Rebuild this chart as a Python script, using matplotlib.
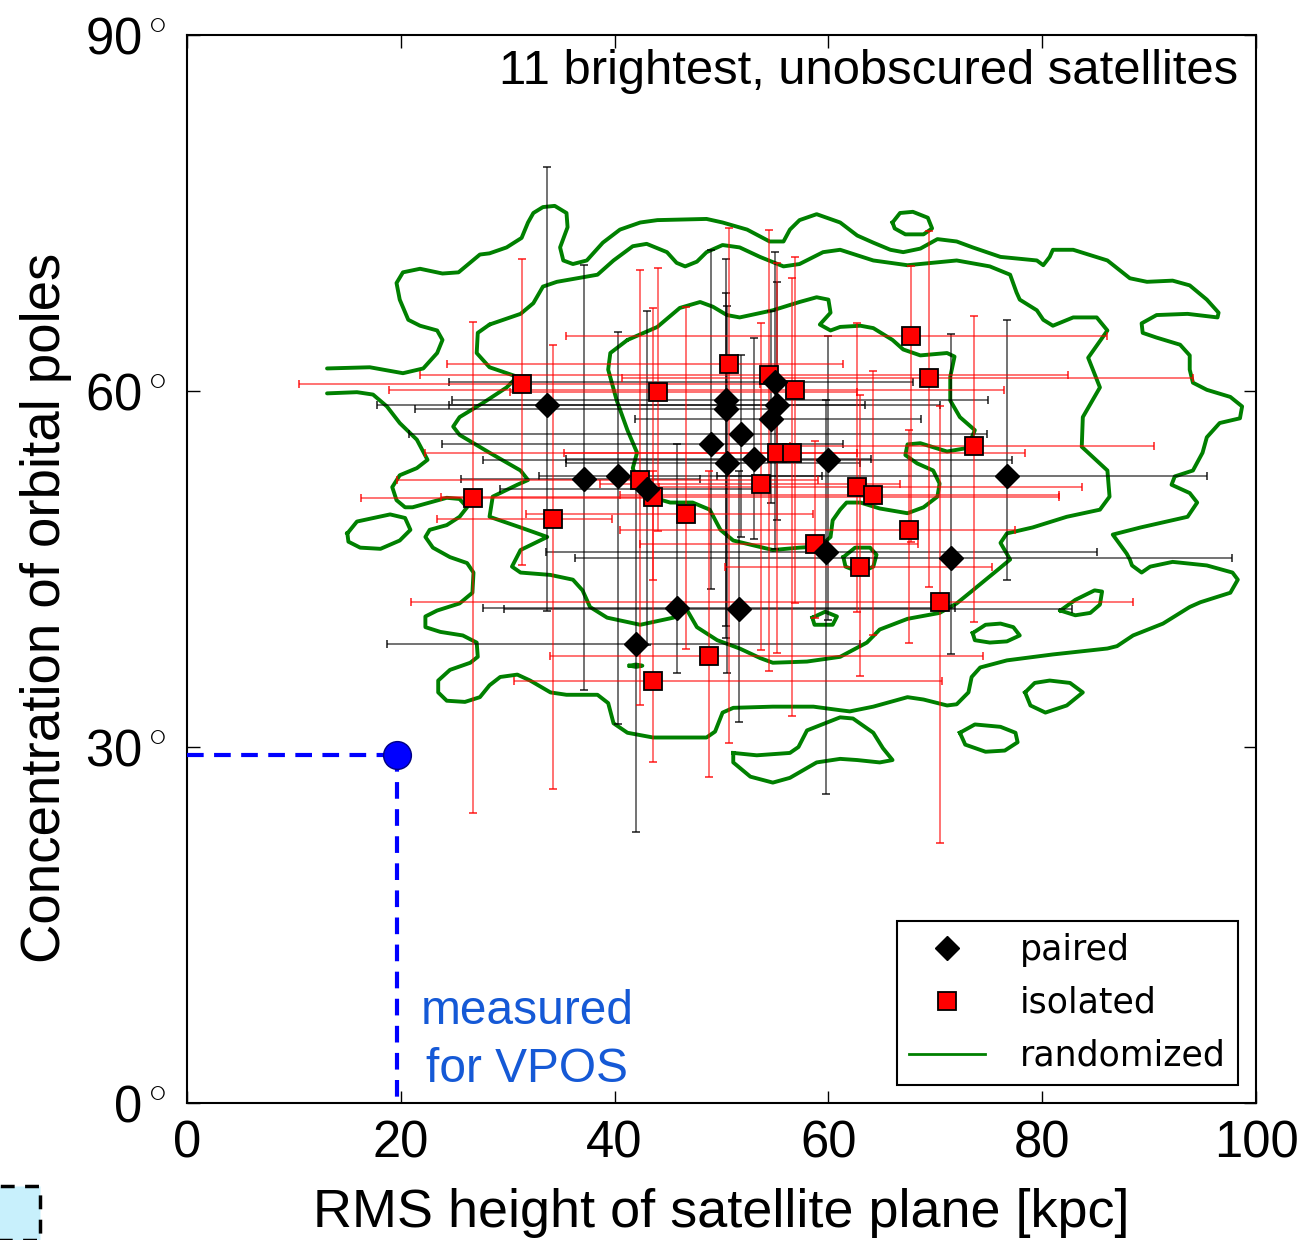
import matplotlib
matplotlib.use("Agg")
import matplotlib.pyplot as plt
from matplotlib.lines import Line2D
from matplotlib.patches import Rectangle
import numpy as np

plt.rcParams['font.family'] = ['Liberation Sans', 'DejaVu Sans']
plt.rcParams['mathtext.fontset'] = 'custom'
plt.rcParams['mathtext.rm'] = 'Liberation Sans'

# ---------------- data ----------------
# paired satellites (black diamonds): position, error-bar ends
paired_x = [33.7, 37.1, 40.35, 43.0, 49.0, 50.4, 50.4, 51.8, 50.5, 53.0,
            55.0, 55.2, 54.6, 60.0, 59.8, 76.7, 71.5, 45.8, 51.6, 42.0]
paired_y = [58.8, 52.6, 52.8, 51.7, 55.5, 59.2, 58.5, 56.4, 53.9, 54.3,
            60.8, 58.8, 57.6, 54.2, 46.4, 52.8, 45.9, 41.7, 41.6, 38.7]
paired_xlo = [17.8, 25.6, 32.9, 29.3, 23.9, 24.8, 21.3, 20.8, 35.5, 35.5,
              24.5, 24.5, 41.9, 27.7, 33.6, 49.6, 36.3, 27.7, 29.7, 18.7]
paired_xhi = [63.4, 48.0, 59.4, 53.6, 61.4, 74.9, 55.5, 74.8, 63.0, 64.0,
              67.9, 70.4, 68.7, 77.2, 85.1, 95.4, 97.8, 71.8, 82.8, 63.0]
paired_ylo = [41.5, 34.8, 31.9, 38.6, 43.3, 40.2, 39.2, 47.7, 36.2, 47.5,
              46.7, 49.1, 50.6, 40.7, 26.0, 44.1, 37.8, 36.2, 32.1, 22.8]
paired_yhi = [78.9, 70.6, 65.0, 66.7, 71.9, 71.1, 68.3, 63.0, 67.2, 64.5,
              71.7, 69.2, 66.7, 64.6, 59.2, 66.0, 64.8, 55.5, 53.3, 53.3]

# isolated satellites (red squares)
iso_x = [31.3, 26.8, 34.2, 44.1, 42.4, 43.6, 46.7, 50.7, 54.4, 56.9, 55.2, 56.6,
         53.7, 58.7, 67.7, 69.4, 73.6, 62.7, 64.2, 67.5, 63.0, 70.4, 48.8, 43.6]
iso_y = [60.6, 51.0, 49.2, 59.9, 52.5, 51.1, 49.6, 62.3, 61.35, 60.1, 54.75, 54.75,
         52.2, 47.1, 64.6, 61.1, 55.4, 51.9, 51.2, 48.3, 45.2, 42.25, 37.7, 35.6]
iso_xlo = [10.5, 16.3, 23.4, 30.2, 19.6, 23.8, 31.7, 24.3, 21.8, 18.9, 35.3, 22.3,
           38.6, 42.4, 35.5, 40.7, 56.4, 44.2, 40.5, 40.5, 50.3, 21.0, 34.0, 30.6]
iso_xhi = [53.6, 43.3, 39.8, 62.7, 59.0, 81.6, 58.6, 61.4, 82.4, 76.4, 62.7, 78.4,
           66.7, 68.4, 86.1, 94.1, 90.5, 83.7, 81.6, 77.5, 75.3, 88.5, 74.5, 70.6]
iso_ylo = [45.3, 24.4, 26.5, 48.2, 33.5, 44.1, 38.3, 30.3, 36.4, 42.1, 37.9, 32.6,
           38.2, 40.9, 47.3, 43.5, 40.5, 41.4, 39.4, 38.8, 36.0, 21.9, 27.5, 28.7]
iso_yhi = [71.1, 65.8, 63.9, 70.4, 70.2, 67.0, 67.1, 73.7, 73.6, 71.3, 70.8, 69.5,
           65.7, 55.8, 70.5, 73.5, 66.3, 65.7, 61.7, 56.7, 59.7, 58.7, 53.3, 53.3]

# measured value for VPOS
vpos_rms = 19.6
vpos_conc = 29.3

# randomized distribution: contour paths (x [kpc], y [deg])
outer_x = [13.1, 17.1, 20.2, 22.1, 23.4, 23.9, 23.4, 21.8, 20.7, 19.9, 19.6, 20.2, 21.8, 23.9,
           25.4, 27.4, 28.3, 29.9, 31.3, 31.9, 32.4, 33.3, 34.4, 35.5, 35.6, 34.9, 35.2, 36.1,
           37.4, 38.9, 40.5, 42.4, 44.0, 48.6, 50.1, 52.4, 54.5, 55.8, 56.4, 57.3, 58.9, 61.1,
           62.7, 64.2, 65.8, 67.0, 68.6, 70.2, 72.0, 73.5, 76.1, 79.5, 80.1, 80.7, 81.0, 82.9,
           86.1, 88.2, 89.8, 92.2, 93.8, 95.4, 96.5, 96.4, 93.6, 90.7, 89.3, 89.4, 90.7, 92.9,
           93.8, 93.8, 94.1, 95.4, 97.6, 98.7, 98.5, 96.6, 95.4, 95.0, 94.1, 92.4, 92.1, 93.8,
           94.5, 93.6, 89.2, 86.6, 87.9, 88.2, 88.4, 89.3, 90.1, 92.2, 95.4, 97.8, 98.3, 97.6,
           94.8, 93.8, 91.3, 88.5, 87.0, 86.1, 81.0, 76.7, 74.2, 73.4, 73.1, 72.0, 71.1, 68.9,
           67.4, 64.2, 62.0, 61.1, 58.6, 54.8, 51.1, 50.1, 49.4, 48.6, 43.6, 41.2, 39.9, 39.4,
           38.4, 35.5, 34.0, 32.1, 30.9, 29.3, 28.3, 27.4, 26.0, 24.3, 23.5, 23.5, 24.6, 26.5,
           27.2, 27.1, 25.8, 23.7, 22.3, 22.3, 23.4, 25.5, 26.7, 26.8, 26.2, 24.6, 23.0, 22.3,
           22.7, 24.3, 25.5, 26.2, 25.5, 24.3, 22.7, 21.1, 20.4, 19.6, 19.2, 19.9, 21.5, 22.5,
           21.5, 19.9, 18.7, 17.4, 15.9, 13.1]
outer_y = [61.9, 62.0, 61.5, 61.9, 63.2, 64.3, 65.1, 65.5, 66.0, 67.7, 69.1, 70.0, 70.3, 69.9,
           70.0, 71.5, 71.6, 72.1, 72.9, 74.2, 75.0, 75.5, 75.6, 75.0, 73.8, 72.1, 71.0, 70.7,
           71.0, 72.5, 73.6, 74.2, 74.4, 74.5, 74.2, 73.6, 72.6, 72.6, 73.6, 74.4, 74.9, 74.2,
           73.1, 72.5, 71.9, 71.7, 72.0, 72.8, 72.6, 72.1, 71.3, 71.0, 70.6, 71.3, 71.9, 71.9,
           71.0, 69.5, 69.2, 69.3, 68.9, 67.7, 66.6, 66.2, 66.5, 66.4, 65.7, 64.9, 64.5, 63.9,
           63.0, 61.8, 60.7, 60.1, 59.5, 58.7, 57.7, 57.3, 56.1, 54.8, 53.3, 52.8, 52.1, 51.4,
           50.6, 49.4, 48.5, 47.9, 46.3, 45.8, 45.3, 44.7, 45.2, 45.6, 45.3, 44.7, 44.1, 43.0,
           42.2, 41.8, 40.4, 39.4, 38.5, 38.3, 37.8, 37.3, 36.7, 35.9, 34.6, 33.6, 33.5, 34.0,
           34.2, 33.4, 33.0, 33.1, 33.4, 33.4, 33.3, 32.9, 31.3, 30.8, 30.8, 31.2, 32.0, 33.7,
           34.4, 34.4, 34.6, 35.6, 36.1, 35.9, 35.2, 34.2, 33.8, 33.9, 34.6, 35.6, 36.5, 37.1,
           37.6, 38.8, 39.4, 39.7, 40.1, 41.0, 41.5, 42.1, 43.0, 44.7, 45.5, 46.0, 46.8, 47.7,
           48.3, 48.7, 49.4, 50.2, 50.9, 51.0, 50.6, 50.2, 50.2, 50.8, 51.9, 52.9, 53.5, 54.2,
           55.9, 57.3, 58.7, 59.7, 59.9, 59.8]

middle_x = [28.3, 31.2, 32.4, 33.3, 34.6, 38.4, 39.9, 41.7, 43.0, 44.9, 45.8, 46.6, 47.7, 48.6,
            50.1, 51.7, 53.6, 55.8, 57.3, 59.5, 61.1, 64.2, 67.4, 72.0, 75.1, 77.0, 77.6, 77.9,
            79.5, 80.1, 81.0, 82.9, 85.1, 86.1, 84.3, 85.4, 83.8, 83.7, 86.1, 86.3, 85.4, 82.3,
            79.1, 76.7, 76.1, 77.0, 75.8, 73.5, 72.0, 70.4, 67.4, 64.8, 63.6, 61.1, 58.0, 54.8,
            53.6, 51.7, 49.6, 47.7, 46.8, 45.5, 42.4, 39.3, 37.7, 37.0, 36.1, 34.0, 31.2, 30.4,
            31.2, 33.7, 31.2, 28.3, 28.6, 30.9, 31.9, 31.2, 28.3, 25.5, 24.9, 25.5, 27.7, 29.9,
            30.9, 28.3, 27.1, 27.2, 28.3]
middle_y = [65.6, 66.5, 67.4, 68.8, 69.2, 69.8, 71.0, 72.2, 72.4, 71.7, 70.8, 70.5, 70.9, 71.7,
            72.3, 72.1, 71.3, 70.5, 70.7, 71.7, 71.9, 71.0, 70.6, 71.0, 70.5, 69.8, 68.3, 67.7,
            66.8, 66.0, 65.5, 66.2, 66.2, 65.1, 62.8, 60.3, 57.8, 55.3, 53.3, 51.1, 50.0, 49.4,
            48.5, 48.0, 47.2, 45.8, 44.9, 43.2, 42.1, 41.3, 40.8, 39.9, 38.8, 37.6, 37.2, 37.1,
            37.5, 38.3, 39.0, 40.1, 41.5, 40.9, 40.3, 40.9, 41.8, 43.2, 44.1, 44.5, 44.7, 45.2,
            46.6, 47.7, 48.5, 49.4, 51.1, 52.1, 52.5, 53.3, 54.8, 56.3, 57.0, 57.8, 59.0, 60.3,
            61.2, 62.0, 63.2, 64.9, 65.6]

inner_x = [41.2, 44.0, 46.1, 48.0, 49.2, 50.5, 51.7, 54.8, 57.3, 58.9, 60.0, 60.2, 59.2, 60.2,
           61.1, 63.0, 64.2, 66.0, 67.0, 68.6, 71.1, 71.8, 71.4, 71.4, 72.3, 73.7, 73.0, 71.1,
           68.6, 67.4, 67.2, 68.3, 69.8, 70.4, 70.2, 68.9, 67.4, 64.8, 63.0, 61.7, 61.1, 60.4,
           60.2, 59.2, 57.3, 54.8, 51.1, 49.9, 48.9, 47.3, 45.2, 43.3, 42.4, 41.7, 42.1, 41.2,
           40.2, 39.4, 39.6, 41.2]
inner_y = [64.3, 65.4, 67.0, 67.5, 67.1, 66.4, 66.2, 66.8, 67.5, 67.9, 67.7, 66.6, 65.6, 65.1,
           65.4, 65.5, 65.3, 64.3, 63.5, 63.0, 63.2, 62.9, 61.2, 59.2, 57.8, 56.7, 55.2, 54.9,
           55.6, 55.5, 54.6, 53.9, 53.3, 52.2, 51.1, 50.2, 49.7, 50.1, 50.6, 50.6, 50.0, 49.1,
           47.7, 46.9, 46.8, 46.6, 47.4, 48.3, 50.0, 50.6, 50.6, 51.1, 51.8, 53.5, 54.8, 56.7,
           59.2, 61.8, 63.2, 64.3]

# small closed islands of the contours
islands = [
    ([66.0, 66.7, 67.9, 69.3, 69.7, 68.9, 67.2, 66.2],
     [74.2, 75.0, 75.1, 74.6, 73.7, 73.2, 73.2, 73.7]),
    ([15.0, 15.9, 19.0, 20.4, 20.9, 19.9, 18.1, 16.2, 15.1],
     [48.0, 49.0, 49.6, 49.3, 48.3, 47.4, 46.7, 46.8, 47.3]),
    ([73.5, 74.7, 76.1, 77.3, 77.9, 76.7, 75.1, 73.7],
     [39.6, 40.3, 40.4, 40.1, 39.4, 38.9, 38.8, 39.0]),
    ([78.4, 79.3, 80.7, 82.6, 83.8, 82.3, 80.3, 78.9],
     [34.6, 35.4, 35.6, 35.4, 34.6, 33.5, 32.9, 33.5]),
    ([72.3, 73.7, 76.1, 77.5, 77.7, 76.5, 74.7, 72.8],
     [31.2, 31.9, 31.7, 31.2, 30.4, 29.7, 29.6, 30.2]),
    ([51.1, 53.3, 56.4, 57.2, 58.0, 61.1, 62.3, 64.2, 65.1, 66.0, 64.8, 62.7, 61.1, 58.9,
      56.4, 54.8, 52.7, 51.1],
     [29.5, 29.3, 29.5, 30.0, 31.4, 32.5, 32.4, 31.2, 29.9, 28.9, 28.7, 28.9, 29.0, 28.7,
      27.4, 27.0, 27.5, 28.7]),
    ([81.7, 83.1, 84.9, 85.6, 85.4, 84.5, 83.1],
     [41.5, 42.4, 43.2, 43.1, 42.0, 41.3, 41.1]),
    ([61.4, 62.5, 63.9, 64.5, 64.2, 63.0, 61.6],
     [46.0, 46.8, 46.8, 46.2, 45.2, 44.7, 45.2]),
    ([58.5, 59.7, 60.8, 60.4, 58.7],
     [40.9, 41.4, 41.0, 40.3, 40.3]),
    ([41.4, 42.0, 42.6, 42.0], [36.85, 36.95, 36.85, 36.75]),
]

x_ticks = [0, 20, 40, 60, 80, 100]
y_ticks = [0, 30, 60, 90]
y_ticklabels = [r'0$^\circ$', r'30$^\circ$', r'60$^\circ$', r'90$^\circ$']

# ---------------- figure ----------------
W, H = 1307, 1240
fig = plt.figure(figsize=(W / 100, H / 100), dpi=100)
ax = fig.add_axes([187 / W, 1 - 1103 / H, (1256 - 187) / W, (1103 - 35) / H])

green = '#008000'
for xs, ys in [(outer_x, outer_y), (middle_x, middle_y), (inner_x, inner_y)]:
    ax.plot(xs, ys, color=green, lw=2.8, zorder=2, solid_joinstyle='round',
            solid_capstyle='round')
for xs, ys in islands:
    ax.plot(list(xs) + [xs[0]], list(ys) + [ys[0]], color=green, lw=2.8, zorder=2,
            solid_joinstyle='round')


def errs(v, lo, hi):
    v = np.asarray(v); lo = np.asarray(lo); hi = np.asarray(hi)
    return np.vstack([v - lo, hi - v])


ax.errorbar(paired_x, paired_y, xerr=errs(paired_x, paired_xlo, paired_xhi),
            yerr=errs(paired_y, paired_ylo, paired_yhi), fmt='none',
            ecolor='black', elinewidth=1.1, capsize=3, capthick=1.4, alpha=0.7, zorder=3)
ax.errorbar(iso_x, iso_y, xerr=errs(iso_x, iso_xlo, iso_xhi),
            yerr=errs(iso_y, iso_ylo, iso_yhi), fmt='none',
            ecolor='red', elinewidth=1.1, capsize=3, capthick=1.4, alpha=0.7, zorder=3)

ax.plot(paired_x, paired_y, 'D', color='black', ms=12.5, mec='black', zorder=5)
ax.plot(iso_x, iso_y, 's', color='red', ms=13, mec='black', mew=1.3, zorder=4)

# VPOS measurement
ax.plot([0, vpos_rms], [vpos_conc, vpos_conc], color='blue', lw=3, dashes=(4, 2.5), zorder=6)
ax.plot([vpos_rms, vpos_rms], [vpos_conc, 0], color='blue', lw=3, dashes=(4, 2.5), zorder=6,
        clip_on=False)
ax.plot([vpos_rms], [vpos_conc], 'o', color='blue', ms=20, mec='#000080', mew=1, zorder=7)
ax.text(31.8, 5.25, 'measured\nfor VPOS', color='#1559d6', fontsize=34.5, ha='center',
        va='center', linespacing=1.38)

ax.text(98.3, 86.9, '11 brightest, unobscured satellites', fontsize=35.3, ha='right',
        va='center')

ax.set_xlim(0, 100)
ax.set_ylim(0, 90)
ax.set_xticks(x_ticks)
ax.set_yticks(y_ticks)
ax.set_yticklabels(y_ticklabels)
ax.tick_params(direction='in', length=9, width=1, labelsize=36.5, top=True, right=True,
               pad=12)
ax.tick_params(axis='y', pad=15)
for s in ax.spines.values():
    s.set_linewidth(1.5)
ax.set_xlabel('RMS height of satellite plane [kpc]', fontsize=38.9, labelpad=14)
ax.set_ylabel('Concentration of orbital poles', fontsize=39.3)
ax.yaxis.set_label_coords(-0.108, 0.464)

handles = [Line2D([], [], ls='none', marker='D', color='black', ms=12.5),
           Line2D([], [], ls='none', marker='s', color='red', mec='black', mew=1.3, ms=13),
           Line2D([], [], color=green, lw=2)]
leg = ax.legend(handles, ['paired', 'isolated', 'randomized'], loc='lower right',
                bbox_to_anchor=(1238 / W, 1 - 1085 / H), bbox_transform=fig.transFigure,
                borderaxespad=0,
                prop={'family': 'DejaVu Sans', 'size': 25}, fancybox=False, framealpha=1,
                edgecolor='black', handlelength=2.2, borderpad=0.35, labelspacing=0.55,
                handletextpad=1.0)
leg.get_frame().set_linewidth(1.5)

# partial inset box visible at the bottom-left corner
fig.patches.append(Rectangle((-0.02, 0), 40 / W + 0.02, 54 / H, transform=fig.transFigure,
                             facecolor='#c8f0fc', edgecolor='black', lw=2.5,
                             linestyle=(0, (4, 3)), figure=fig))

fig.savefig('out.png', dpi=100)
